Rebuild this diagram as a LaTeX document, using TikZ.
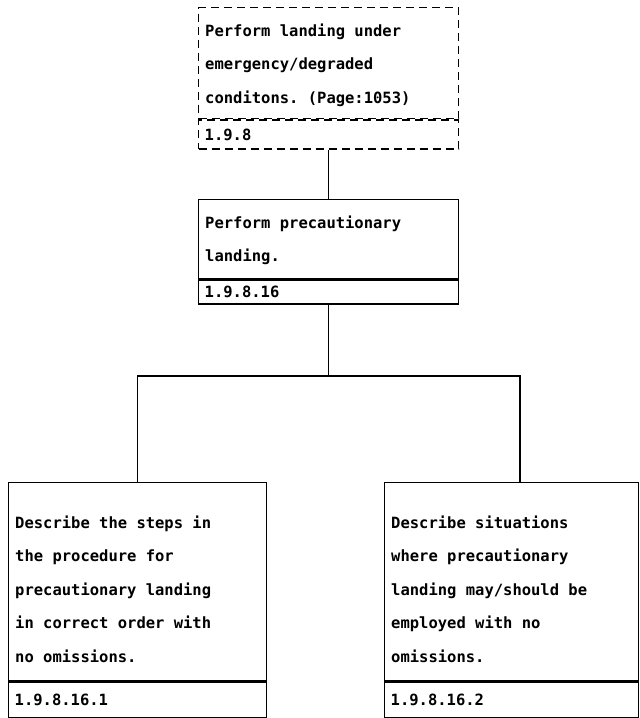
\documentclass[tikz,border=0pt]{standalone}
\usepackage{fontspec}
\setmonofont{DejaVu Sans Mono}
\usetikzlibrary{calc}
\begin{document}
\begin{tikzpicture}[x=1pt,y=-1pt,
  card/.style={draw=black, line width=1.4pt, rectangle, inner sep=0pt,
    minimum width=260pt, anchor=north west},
  dashcard/.style={card, dash pattern=on 8pt off 5pt},
  idbox/.style={card, minimum height=29pt, align=left,
    inner xsep=6pt, font=\ttfamily\bfseries\fontsize{15.5}{18}\selectfont},
  txt/.style={anchor=north west, inner sep=0pt, align=left,
    font=\ttfamily\bfseries\fontsize{15.5}{33.5}\selectfont},
  link/.style={draw=black, line width=1.4pt}]
\useasboundingbox (0,0) rectangle (640,718);

% top task
\node[dashcard, minimum height=111pt] (top) at (198,7) {};
\node[txt] (top-text) at ($(top.north west)+(7,16.5)$)
  {Perform landing under\\emergency/degraded\\conditons. (Page:1053)};
\node[idbox, dash pattern=on 8pt off 5pt, text width=248pt] (top-id) at (top.south west) {1.9.8};

% middle task
\node[card, minimum height=79pt] (mid) at (198,199) {};
\node[txt] (mid-text) at ($(mid.north west)+(7,16.5)$)
  {Perform precautionary\\landing.};
\node[idbox, minimum height=24pt, text width=248pt] (mid-id) at (mid.south west) {1.9.8.16};

% lower tasks
\node[card, minimum width=258pt, minimum height=198pt] (left) at (8,482) {};
\node[txt] (left-text) at ($(left.north west)+(7,33.5)$)
  {Describe the steps in\\the procedure for\\precautionary landing\\in correct order with\\no omissions.};
\node[idbox, minimum width=258pt, text width=246pt, minimum height=36pt] (left-id) at (left.south west) {1.9.8.16.1};

\node[card, minimum width=254pt, minimum height=198pt] (right) at (384,482) {};
\node[txt] (right-text) at ($(right.north west)+(7,33.5)$)
  {Describe situations\\where precautionary\\landing may/should be\\employed with no\\omissions.};
\node[idbox, minimum width=254pt, text width=242pt, minimum height=36pt] (right-id) at (right.south west) {1.9.8.16.2};

% connectors
\coordinate (fork) at ($(mid-id.south)+(0,71)$);
\coordinate (left-in) at ($(left.north)+(0,0)$);
\coordinate (right-in) at ($(right.north west)+(136,0)$);
\draw[link] (top-id.south) -- (mid.north);
\draw[link] (mid-id.south) -- (fork);
\draw[link] (left-in) |- (fork) -| (right-in);
\end{tikzpicture}
\end{document}
